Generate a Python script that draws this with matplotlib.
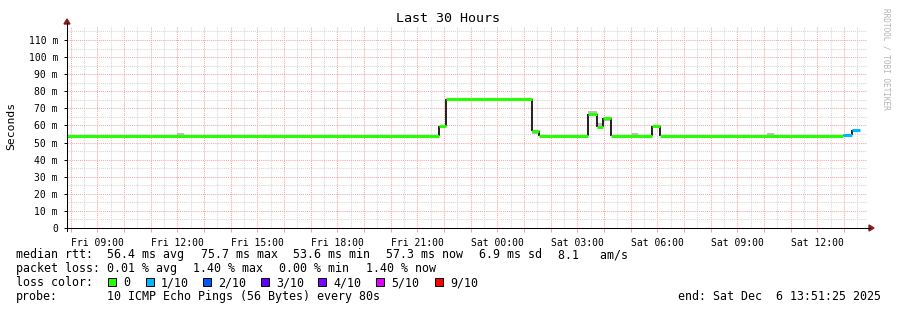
import datetime as dt
import matplotlib
matplotlib.use("Agg")
import matplotlib.pyplot as plt
import matplotlib.dates as mdates
from matplotlib.patches import Rectangle, Polygon
from matplotlib.lines import Line2D

# ---------------- data ----------------
start_time = "2025-12-05 07:51:25"
end_time = "2025-12-06 13:51:25"

# step boundaries of the median line
edges = ["2025-12-05 07:51", "2025-12-05 21:48", "2025-12-05 22:04",
         "2025-12-06 01:18", "2025-12-06 01:33", "2025-12-06 03:24",
         "2025-12-06 03:44", "2025-12-06 03:57", "2025-12-06 04:15",
         "2025-12-06 05:48", "2025-12-06 06:06", "2025-12-06 12:57",
         "2025-12-06 13:18", "2025-12-06 13:36"]
median_ms = [53.6, 59.4, 75.7, 56.8, 53.6, 66.5, 58.9, 64.2, 53.6, 59.5, 53.6, 54.4, 57.3]
loss_level = [0, 0, 0, 0, 0, 0, 0, 0, 0, 0, 0, 1, 1]

# smoke (ping spread) patches
smoke_start = ["2025-12-05 11:59", "2025-12-06 01:18", "2025-12-06 03:24", "2025-12-06 03:44",
               "2025-12-06 03:57", "2025-12-06 05:03", "2025-12-06 07:29", "2025-12-06 10:06"]
smoke_end = ["2025-12-05 12:15", "2025-12-06 01:33", "2025-12-06 03:44", "2025-12-06 03:57",
             "2025-12-06 04:15", "2025-12-06 05:16", "2025-12-06 07:42", "2025-12-06 10:22"]
smoke_lo = [53.6, 55.0, 66.5, 58.9, 62.6, 53.6, 53.6, 53.6]
smoke_hi = [55.6, 56.8, 68.6, 61.4, 64.2, 55.6, 54.6, 55.6]

loss_labels = ["0", "1/10", "2/10", "3/10", "4/10", "5/10", "9/10"]
loss_colors = ["#26ff00", "#00b8ff", "#0059ff", "#5e00ff", "#7e00ff", "#dd00ff", "#ff0000"]

title = "Last 30 Hours"
y_label = "Seconds"
y_ticks = [0, 10, 20, 30, 40, 50, 60, 70, 80, 90, 100, 110]

rtt_stats = ["median rtt:", "56.4 ms avg", "75.7 ms max", "53.6 ms min", "57.3 ms now",
             "6.9 ms sd", "8.1   am/s"]
loss_stats = ["packet loss:", "0.01 % avg", "1.40 % max", "0.00 % min", "1.40 % now"]
probe_text = ["probe:", "10 ICMP Echo Pings (56 Bytes) every 80s"]
end_text = "end: Sat Dec  6 13:51:25 2025"
watermark = "RRDTOOL / TOBI OETIKER"

# ---------------- drawing ----------------
W, H = 897, 310
DPI = 100
MONO = "DejaVu Sans Mono"
fig = plt.figure(figsize=(W / DPI, H / DPI), dpi=DPI)
fig.patch.set_facecolor("white")

L, R, B, T = 67, 867, 228, 27
ax = fig.add_axes([L / W, 1 - B / H, (R - L) / W, (B - T) / H])
ax.set_facecolor("white")

p = lambda s: dt.datetime.fromisoformat(s)
t0, t1 = p(start_time), p(end_time)
ax.set_xlim(t0, t1)
ax.set_ylim(0, 117.6)

# grid
def frange_times(step_min):
    first = t0.replace(minute=0, second=0)
    out = []
    t = first
    while t <= t1:
        if t >= t0:
            out.append(t)
        t += dt.timedelta(minutes=step_min)
    return out

grid_minor = "#d6d6d6"
grid_major = "#f4a8a8"
for t in frange_times(30):
    if t.minute == 30:
        ax.axvline(t, color=grid_minor, lw=0.75, ls=(0, (1, 1)), zorder=0)
for t in frange_times(60):
    ax.axvline(t, color=grid_major, lw=0.75, ls=(0, (1, 1)), zorder=0)
for v in range(5, 118, 10):
    ax.axhline(v, color=grid_minor, lw=0.75, ls=(0, (1, 1)), zorder=0)
for v in range(10, 118, 10):
    ax.axhline(v, color=grid_major, lw=0.75, ls=(0, (1, 1)), zorder=0)

# smoke
for s, e, lo, hi in zip(smoke_start, smoke_end, smoke_lo, smoke_hi):
    xs = mdates.date2num(p(s)); xe = mdates.date2num(p(e))
    ax.add_patch(Rectangle((xs, lo), xe - xs, hi - lo, facecolor="#bdbdbd",
                           edgecolor="none", zorder=2))

# median line: dark connectors + loss-coloured steps
et = [p(s) for s in edges]
for i in range(1, len(median_ms)):
    ax.plot([et[i], et[i]], [median_ms[i - 1], median_ms[i]], color="#202020",
            lw=1.4, zorder=3, solid_capstyle="butt")
for i, (v, lv) in enumerate(zip(median_ms, loss_level)):
    ax.plot([et[i], et[i + 1]], [v, v], color=loss_colors[lv], lw=2.2, zorder=4,
            solid_capstyle="butt")

# axes styling
for sp in ax.spines.values():
    sp.set_visible(False)
ax.xaxis.set_major_locator(mdates.HourLocator(byhour=range(0, 24, 3)))
ax.xaxis.set_major_formatter(mdates.DateFormatter("%a %H:%M"))
ax.xaxis.set_minor_locator(mdates.HourLocator())
ax.set_yticks(y_ticks)
ax.set_yticklabels(["0"] + [f"{v} m" for v in y_ticks[1:]])
ax.tick_params(axis="both", which="both", labelsize=7.0, colors="black",
               length=2.5, width=0.7)
ax.tick_params(axis="x", which="both", color="#f2a0a0", length=3, pad=4)
ax.tick_params(axis="y", pad=4)
for lbl in ax.get_xticklabels() + ax.get_yticklabels():
    lbl.set_fontfamily(MONO)

# axis lines with arrows (figure pixel coordinates)
def fx(x):
    return x / W
def fy(y):
    return 1 - y / H
fig.add_artist(Line2D([fx(L), fx(R + 3)], [fy(B), fy(B)], color="black", lw=0.75))
fig.add_artist(Line2D([fx(L), fx(L)], [fy(B + 3), fy(T - 4)], color="black", lw=0.75))
arrow_c = "#8b1a1a"
fig.add_artist(Polygon([[fx(R + 2), fy(B - 3)], [fx(R + 2), fy(B + 3)], [fx(R + 7), fy(B)]],
                       closed=True, color=arrow_c, transform=fig.transFigure))
fig.add_artist(Polygon([[fx(L - 3), fy(T - 3)], [fx(L + 3), fy(T - 3)], [fx(L), fy(T - 8)]],
                       closed=True, color=arrow_c, transform=fig.transFigure))

# title, labels, watermark
fig.text(fx(448), fy(19), title, ha="center", va="center", family=MONO, fontsize=9.6)
fig.text(fx(11), fy(126), y_label, ha="center", va="center", rotation=90,
         family=MONO, fontsize=8.2)
fig.text(fx(886), fy(59), watermark, ha="center", va="center", rotation=270,
         family=MONO, fontsize=5.6, color="#b4b4b4")

# legend rows (baseline aligned)
LF = 8.4
def row_text(x, y, s, **kw):
    fig.text(fx(x), fy(y + 4), s, ha=kw.pop("ha", "left"), va="baseline",
             family=MONO, fontsize=LF, **kw)

row1 = [16, 107, 201, 293, 386, 479, 558]
for x, s in zip(row1, rtt_stats):
    row_text(x, 254, s)
row2 = [16, 107, 193, 279, 366]
for x, s in zip(row2, loss_stats):
    row_text(x, 268, s)
row_text(16, 282, "loss color:")
box_x = [108, 146, 203, 261, 318, 376, 435]
for x, lab, c in zip(box_x, loss_labels, loss_colors):
    fig.add_artist(Rectangle((fx(x), fy(286)), 8 / W, 8 / H, transform=fig.transFigure,
                             facecolor=c, edgecolor="black", lw=0.7))
    row_text(x + 15, 282, lab)
row_text(16, 296, probe_text[0])
row_text(107, 296, probe_text[1])
row_text(881, 296, end_text, ha="right")

fig.savefig("out.png", dpi=DPI, facecolor="white")
